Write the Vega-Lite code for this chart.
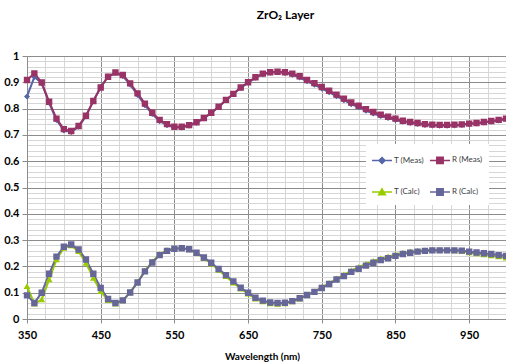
{
  "$schema": "https://vega.github.io/schema/vega-lite/v6.json",
  "width": 479,
  "height": 263,
  "autosize": {"type": "none"},
  "padding": {"left": 27, "top": 56, "right": 0, "bottom": 45},
  "background": "white",
  "config": {"view": {"stroke": null}},
  "title": {"text": "ZrO₂ Layer", "font": "Lato", "fontSize": 12, "fontWeight": "bold", "color": "#000000", "frame": "group", "anchor": "middle", "baseline": "alphabetic", "offset": 19, "dx": 19},
  "data": {"values": [
    {"wl": 350, "T (Meas)": 0.846, "R (Meas)": 0.909, "T (Calc)": 0.124, "R (Calc)": 0.090},
    {"wl": 360, "T (Meas)": 0.920, "R (Meas)": 0.934, "T (Calc)": 0.058, "R (Calc)": 0.061},
    {"wl": 370, "T (Meas)": 0.896, "R (Meas)": 0.899, "T (Calc)": 0.074, "R (Calc)": 0.100},
    {"wl": 380, "T (Meas)": 0.822, "R (Meas)": 0.826, "T (Calc)": 0.150, "R (Calc)": 0.172},
    {"wl": 390, "T (Meas)": 0.757, "R (Meas)": 0.762, "T (Calc)": 0.226, "R (Calc)": 0.237},
    {"wl": 400, "T (Meas)": 0.717, "R (Meas)": 0.722, "T (Calc)": 0.270, "R (Calc)": 0.275},
    {"wl": 410, "T (Meas)": 0.711, "R (Meas)": 0.715, "T (Calc)": 0.279, "R (Calc)": 0.283},
    {"wl": 420, "T (Meas)": 0.731, "R (Meas)": 0.734, "T (Calc)": 0.257, "R (Calc)": 0.264},
    {"wl": 430, "T (Meas)": 0.771, "R (Meas)": 0.773, "T (Calc)": 0.213, "R (Calc)": 0.226},
    {"wl": 440, "T (Meas)": 0.829, "R (Meas)": 0.829, "T (Calc)": 0.156, "R (Calc)": 0.172},
    {"wl": 450, "T (Meas)": 0.882, "R (Meas)": 0.880, "T (Calc)": 0.105, "R (Calc)": 0.118},
    {"wl": 460, "T (Meas)": 0.922, "R (Meas)": 0.921, "T (Calc)": 0.071, "R (Calc)": 0.076},
    {"wl": 470, "T (Meas)": 0.935, "R (Meas)": 0.937, "T (Calc)": 0.058, "R (Calc)": 0.061},
    {"wl": 480, "T (Meas)": 0.924, "R (Meas)": 0.928, "T (Calc)": 0.070, "R (Calc)": 0.071},
    {"wl": 490, "T (Meas)": 0.891, "R (Meas)": 0.896, "T (Calc)": 0.101, "R (Calc)": 0.101},
    {"wl": 500, "T (Meas)": 0.852, "R (Meas)": 0.858, "T (Calc)": 0.140, "R (Calc)": 0.139},
    {"wl": 510, "T (Meas)": 0.813, "R (Meas)": 0.819, "T (Calc)": 0.183, "R (Calc)": 0.181},
    {"wl": 520, "T (Meas)": 0.779, "R (Meas)": 0.784, "T (Calc)": 0.218, "R (Calc)": 0.215},
    {"wl": 530, "T (Meas)": 0.752, "R (Meas)": 0.757, "T (Calc)": 0.246, "R (Calc)": 0.243},
    {"wl": 540, "T (Meas)": 0.737, "R (Meas)": 0.741, "T (Calc)": 0.262, "R (Calc)": 0.259},
    {"wl": 550, "T (Meas)": 0.728, "R (Meas)": 0.731, "T (Calc)": 0.269, "R (Calc)": 0.267},
    {"wl": 560, "T (Meas)": 0.728, "R (Meas)": 0.731, "T (Calc)": 0.270, "R (Calc)": 0.269},
    {"wl": 570, "T (Meas)": 0.735, "R (Meas)": 0.737, "T (Calc)": 0.264, "R (Calc)": 0.265},
    {"wl": 580, "T (Meas)": 0.746, "R (Meas)": 0.748, "T (Calc)": 0.250, "R (Calc)": 0.252},
    {"wl": 590, "T (Meas)": 0.763, "R (Meas)": 0.764, "T (Calc)": 0.231, "R (Calc)": 0.234},
    {"wl": 600, "T (Meas)": 0.783, "R (Meas)": 0.784, "T (Calc)": 0.210, "R (Calc)": 0.214},
    {"wl": 610, "T (Meas)": 0.806, "R (Meas)": 0.807, "T (Calc)": 0.186, "R (Calc)": 0.190},
    {"wl": 620, "T (Meas)": 0.832, "R (Meas)": 0.833, "T (Calc)": 0.162, "R (Calc)": 0.167},
    {"wl": 630, "T (Meas)": 0.855, "R (Meas)": 0.856, "T (Calc)": 0.138, "R (Calc)": 0.143},
    {"wl": 640, "T (Meas)": 0.879, "R (Meas)": 0.880, "T (Calc)": 0.115, "R (Calc)": 0.119},
    {"wl": 650, "T (Meas)": 0.899, "R (Meas)": 0.900, "T (Calc)": 0.096, "R (Calc)": 0.100},
    {"wl": 660, "T (Meas)": 0.917, "R (Meas)": 0.919, "T (Calc)": 0.077, "R (Calc)": 0.081},
    {"wl": 670, "T (Meas)": 0.931, "R (Meas)": 0.933, "T (Calc)": 0.066, "R (Calc)": 0.070},
    {"wl": 680, "T (Meas)": 0.936, "R (Meas)": 0.938, "T (Calc)": 0.059, "R (Calc)": 0.063},
    {"wl": 690, "T (Meas)": 0.938, "R (Meas)": 0.940, "T (Calc)": 0.057, "R (Calc)": 0.061},
    {"wl": 700, "T (Meas)": 0.935, "R (Meas)": 0.938, "T (Calc)": 0.059, "R (Calc)": 0.062},
    {"wl": 710, "T (Meas)": 0.929, "R (Meas)": 0.933, "T (Calc)": 0.066, "R (Calc)": 0.068},
    {"wl": 720, "T (Meas)": 0.918, "R (Meas)": 0.923, "T (Calc)": 0.077, "R (Calc)": 0.079},
    {"wl": 730, "T (Meas)": 0.904, "R (Meas)": 0.909, "T (Calc)": 0.091, "R (Calc)": 0.091},
    {"wl": 740, "T (Meas)": 0.891, "R (Meas)": 0.897, "T (Calc)": 0.104, "R (Calc)": 0.103},
    {"wl": 750, "T (Meas)": 0.876, "R (Meas)": 0.882, "T (Calc)": 0.120, "R (Calc)": 0.118},
    {"wl": 760, "T (Meas)": 0.862, "R (Meas)": 0.868, "T (Calc)": 0.136, "R (Calc)": 0.133},
    {"wl": 770, "T (Meas)": 0.847, "R (Meas)": 0.853, "T (Calc)": 0.153, "R (Calc)": 0.150},
    {"wl": 780, "T (Meas)": 0.832, "R (Meas)": 0.838, "T (Calc)": 0.168, "R (Calc)": 0.163},
    {"wl": 790, "T (Meas)": 0.817, "R (Meas)": 0.823, "T (Calc)": 0.184, "R (Calc)": 0.179},
    {"wl": 800, "T (Meas)": 0.805, "R (Meas)": 0.811, "T (Calc)": 0.197, "R (Calc)": 0.191},
    {"wl": 810, "T (Meas)": 0.792, "R (Meas)": 0.798, "T (Calc)": 0.209, "R (Calc)": 0.203},
    {"wl": 820, "T (Meas)": 0.781, "R (Meas)": 0.787, "T (Calc)": 0.220, "R (Calc)": 0.214},
    {"wl": 830, "T (Meas)": 0.772, "R (Meas)": 0.777, "T (Calc)": 0.230, "R (Calc)": 0.224},
    {"wl": 840, "T (Meas)": 0.764, "R (Meas)": 0.769, "T (Calc)": 0.237, "R (Calc)": 0.231},
    {"wl": 850, "T (Meas)": 0.757, "R (Meas)": 0.762, "T (Calc)": 0.245, "R (Calc)": 0.240},
    {"wl": 860, "T (Meas)": 0.750, "R (Meas)": 0.754, "T (Calc)": 0.251, "R (Calc)": 0.247},
    {"wl": 870, "T (Meas)": 0.745, "R (Meas)": 0.749, "T (Calc)": 0.256, "R (Calc)": 0.252},
    {"wl": 880, "T (Meas)": 0.741, "R (Meas)": 0.745, "T (Calc)": 0.259, "R (Calc)": 0.256},
    {"wl": 890, "T (Meas)": 0.738, "R (Meas)": 0.741, "T (Calc)": 0.261, "R (Calc)": 0.259},
    {"wl": 900, "T (Meas)": 0.736, "R (Meas)": 0.739, "T (Calc)": 0.262, "R (Calc)": 0.261},
    {"wl": 910, "T (Meas)": 0.735, "R (Meas)": 0.738, "T (Calc)": 0.262, "R (Calc)": 0.261},
    {"wl": 920, "T (Meas)": 0.735, "R (Meas)": 0.738, "T (Calc)": 0.261, "R (Calc)": 0.261},
    {"wl": 930, "T (Meas)": 0.736, "R (Meas)": 0.739, "T (Calc)": 0.260, "R (Calc)": 0.261},
    {"wl": 940, "T (Meas)": 0.738, "R (Meas)": 0.740, "T (Calc)": 0.258, "R (Calc)": 0.260},
    {"wl": 950, "T (Meas)": 0.741, "R (Meas)": 0.743, "T (Calc)": 0.253, "R (Calc)": 0.256},
    {"wl": 960, "T (Meas)": 0.743, "R (Meas)": 0.745, "T (Calc)": 0.249, "R (Calc)": 0.253},
    {"wl": 970, "T (Meas)": 0.747, "R (Meas)": 0.749, "T (Calc)": 0.245, "R (Calc)": 0.250},
    {"wl": 980, "T (Meas)": 0.751, "R (Meas)": 0.753, "T (Calc)": 0.241, "R (Calc)": 0.247},
    {"wl": 990, "T (Meas)": 0.755, "R (Meas)": 0.757, "T (Calc)": 0.237, "R (Calc)": 0.243},
    {"wl": 1000, "T (Meas)": 0.760, "R (Meas)": 0.762, "T (Calc)": 0.233, "R (Calc)": 0.240}
  ]},
  "transform": [{"fold": ["T (Meas)", "R (Meas)", "T (Calc)", "R (Calc)"], "as": ["series", "v"]}],
  "encoding": {
    "x": {
      "field": "wl", "type": "quantitative",
      "scale": {"domain": [350, 1000], "nice": false, "zero": false},
      "axis": {
        "values": [350,375,400,425,450,475,500,525,550,575,600,625,650,675,700,725,750,775,800,825,850,875,900,925,950,975,1000],
        "labelExpr": "(datum.value - 350) % 100 === 0 ? datum.label : ''",
        "labelOverlap": false, "labelFlush": false,
        "labelFont": "Lato", "labelFontSize": 11, "labelFontWeight": "bold", "labelColor": "#000000", "labelPadding": 6,
        "tickColor": {"condition": {"test": "(datum.value - 350) % 100 === 0", "value": "#8c8c8c"}, "value": "transparent"},
        "tickSize": 4,
        "gridColor": {"condition": {"test": "(datum.value - 350) % 100 === 0", "value": "#8c8c8c"}, "value": "#d6d6d6"},
        "domainColor": "#8c8c8c",
        "title": "Wavelength (nm)", "titleFont": "Lato", "titleFontSize": 10, "titleFontWeight": "bold", "titleColor": "#000000", "titlePadding": 11, "titleX": 235
      }
    },
    "y": {
      "field": "v", "type": "quantitative",
      "scale": {"domain": [0, 1], "nice": false},
      "axis": {
        "values": [0,0.02,0.04,0.06,0.08,0.1,0.12,0.14,0.16,0.18,0.2,0.22,0.24,0.26,0.28,0.3,0.32,0.34,0.36,0.38,0.4,0.42,0.44,0.46,0.48,0.5,0.52,0.54,0.56,0.58,0.6,0.62,0.64,0.66,0.68,0.7,0.72,0.74,0.76,0.78,0.8,0.82,0.84,0.86,0.88,0.9,0.92,0.94,0.96,0.98,1],
        "labelExpr": "abs(datum.value * 10 - round(datum.value * 10)) < 0.001 ? format(datum.value, '.1~f') : ''",
        "labelOverlap": false, "labelFlush": false,
        "labelFont": "Lato", "labelFontSize": 11, "labelFontWeight": "bold", "labelColor": "#000000", "labelPadding": 3,
        "tickColor": {"condition": {"test": "abs(datum.value * 10 - round(datum.value * 10)) < 0.001", "value": "#8c8c8c"}, "value": "transparent"},
        "tickSize": 5,
        "gridColor": {"condition": {"test": "abs(datum.value * 10 - round(datum.value * 10)) < 0.001", "value": "#8c8c8c"}, "value": "#d6d6d6"},
        "domainColor": "#8c8c8c",
        "title": null
      }
    }
  },
  "layer": [
    {
      "mark": {"type": "line", "strokeWidth": 2},
      "encoding": {
        "stroke": {
          "field": "series", "type": "nominal",
          "scale": {"domain": ["T (Meas)", "R (Meas)", "T (Calc)", "R (Calc)"], "range": ["#5566a8", "#993366", "#99cc00", "#666699"]},
          "legend": {
            "orient": "none", "legendX": 339, "legendY": 88, "direction": "horizontal", "columns": 2, "title": null,
            "symbolSize": 400, "symbolStrokeWidth": 1.5,
            "labelFont": "Lato", "labelFontSize": 8, "labelColor": "#404040", "labelOffset": 1,
            "rowPadding": 14, "columnPadding": 3, "padding": 5,
            "fillColor": "white", "strokeColor": "white",
            "encode": {"symbols": {"update": {
              "fill": {"value": {"expr": "datum.value === 'T (Meas)' ? '#5566a8' : datum.value === 'R (Meas)' ? '#993366' : datum.value === 'T (Calc)' ? '#99cc00' : '#666699'"}}
            }}}
          }
        }
      }
    },
    {
      "mark": {"type": "point", "filled": true, "size": 400, "opacity": 1, "strokeWidth": 0},
      "encoding": {
        "fill": {
          "field": "series", "type": "nominal",
          "scale": {"domain": ["T (Meas)", "R (Meas)", "T (Calc)", "R (Calc)"], "range": ["#5566a8", "#993366", "#99cc00", "#666699"]},
          "legend": null
        },
        "shape": {
          "field": "series", "type": "nominal",
          "scale": {"domain": ["T (Meas)", "R (Meas)", "T (Calc)", "R (Calc)"], "range": ["M-1,0H1M0,-0.3L0.3,0L0,0.3L-0.3,0Z", "M-1,0H1M-0.32,-0.32H0.32V0.32H-0.32Z", "M-1,0H1M0,-0.32L0.34,0.27H-0.34Z", "M-1,0H1M-0.32,-0.32H0.32V0.32H-0.32Z"]},
          "legend": null
        },
        "order": {"field": "series", "sort": "descending"}
      }
    }
  ]
}
